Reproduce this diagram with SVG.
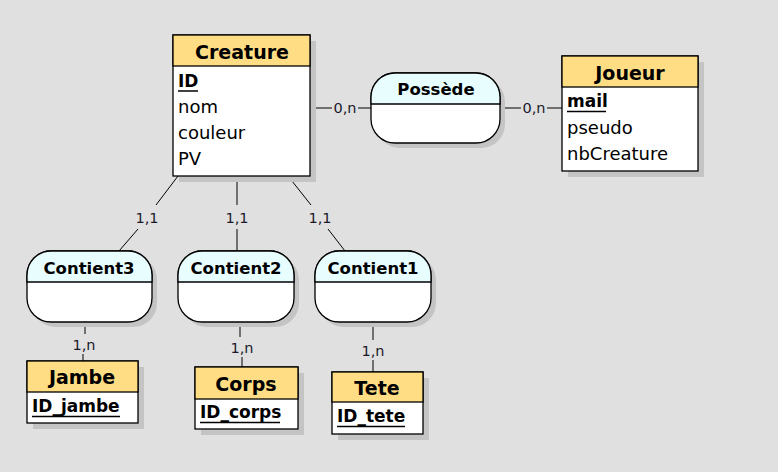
<svg xmlns="http://www.w3.org/2000/svg" width="778" height="472" viewBox="0 0 778 472">
<style>
.bg{fill:#e0e0e0}
.sh{fill:#c4c4c4}
.box{fill:#ffffff;stroke:#000;stroke-width:1.3}
.eh{fill:#ffdd84;stroke:#000;stroke-width:1.3}
.rh{fill:#e8fdfe;stroke:#000;stroke-width:1.3}
.title{font-family:"DejaVu Sans",sans-serif;font-weight:bold;font-size:19px;fill:#000;text-anchor:middle}
.rtitle{font-family:"DejaVu Sans",sans-serif;font-weight:bold;font-size:16.5px;fill:#000;text-anchor:middle}
.attr{font-family:"DejaVu Sans",sans-serif;font-size:18px;fill:#000}
.key{font-family:"DejaVu Sans",sans-serif;font-size:17px;font-weight:bold;fill:#000}
.ul{stroke:#000;stroke-width:1.5}
.ln{stroke:#000;stroke-width:1;fill:none}
.card{font-family:"DejaVu Sans",sans-serif;font-size:14.5px;fill:#1a1a2a;text-anchor:middle}
</style>
<rect class="bg" x="0" y="0" width="778" height="472"/>

<g id="connectors">
<line class="ln" x1="310" y1="108" x2="332" y2="108"/>
<line class="ln" x1="358" y1="108" x2="371" y2="108"/>
<text class="card" x="345" y="113">0,n</text>
<line class="ln" x1="500" y1="108" x2="521" y2="108"/>
<line class="ln" x1="547" y1="108" x2="562" y2="108"/>
<text class="card" x="534" y="113">0,n</text>

<line class="ln" x1="178" y1="176" x2="156" y2="205"/>
<line class="ln" x1="138" y1="229" x2="119" y2="251"/>
<text class="card" x="147" y="223">1,1</text>
<line class="ln" x1="237" y1="176" x2="237" y2="205"/>
<line class="ln" x1="237" y1="229" x2="237" y2="251"/>
<text class="card" x="237" y="223">1,1</text>
<line class="ln" x1="288" y1="176" x2="311" y2="205"/>
<line class="ln" x1="328" y1="229" x2="345" y2="251"/>
<text class="card" x="320" y="223">1,1</text>

<line class="ln" x1="85" y1="322" x2="85" y2="334"/>
<line class="ln" x1="83" y1="354" x2="83" y2="361"/>
<text class="card" x="84" y="350">1,n</text>
<line class="ln" x1="240" y1="322" x2="240" y2="337"/>
<line class="ln" x1="242" y1="357" x2="242" y2="367"/>
<text class="card" x="242" y="353">1,n</text>
<line class="ln" x1="373" y1="322" x2="373" y2="340"/>
<line class="ln" x1="373" y1="360" x2="373" y2="372"/>
<text class="card" x="373" y="356">1,n</text>
</g>

<g id="creature">
<rect class="sh" x="179" y="41" width="137" height="141"/>
<rect class="box" x="173" y="35" width="137" height="141"/>
<rect class="eh" x="173" y="35" width="137" height="31"/>
<text class="title" x="242" y="59">Creature</text>
<text class="key" x="178" y="87">ID</text>
<line class="ul" x1="178" y1="91" x2="198" y2="91"/>
<text class="attr" x="178" y="113">nom</text>
<text class="attr" x="178" y="139">couleur</text>
<text class="attr" x="178" y="165">PV</text>
</g>

<g id="joueur">
<rect class="sh" x="568" y="62" width="136" height="115"/>
<rect class="box" x="562" y="56" width="136" height="115"/>
<rect class="eh" x="562" y="56" width="136" height="31"/>
<text class="title" x="630" y="80">Joueur</text>
<text class="key" x="567" y="107">mail</text>
<line class="ul" x1="567" y1="111.5" x2="606" y2="111.5"/>
<text class="attr" x="567" y="134">pseudo</text>
<text class="attr" x="567" y="160">nbCreature</text>
</g>

<g id="possede">
<rect class="sh" x="376" y="78" width="129" height="70" rx="24" ry="24"/>
<rect class="box" x="371" y="73" width="129" height="70" rx="24" ry="24"/>
<path class="rh" d="M371,104 L371,97 A24,24 0 0 1 395,73 L476,73 A24,24 0 0 1 500,97 L500,104 Z"/>
<text class="rtitle" x="436" y="95">Possède</text>
</g>

<g id="contient3">
<rect class="sh" x="32" y="256" width="125" height="71" rx="24" ry="24"/>
<rect class="box" x="27" y="251" width="125" height="71" rx="24" ry="24"/>
<path class="rh" d="M27,282 L27,275 A24,24 0 0 1 51,251 L128,251 A24,24 0 0 1 152,275 L152,282 Z"/>
<text class="rtitle" x="89" y="274">Contient3</text>
</g>

<g id="contient2">
<rect class="sh" x="183" y="256" width="116" height="71" rx="24" ry="24"/>
<rect class="box" x="178" y="251" width="116" height="71" rx="24" ry="24"/>
<path class="rh" d="M178,282 L178,275 A24,24 0 0 1 202,251 L270,251 A24,24 0 0 1 294,275 L294,282 Z"/>
<text class="rtitle" x="236" y="274">Contient2</text>
</g>

<g id="contient1">
<rect class="sh" x="320" y="256" width="116" height="71" rx="24" ry="24"/>
<rect class="box" x="315" y="251" width="116" height="71" rx="24" ry="24"/>
<path class="rh" d="M315,282 L315,275 A24,24 0 0 1 339,251 L407,251 A24,24 0 0 1 431,275 L431,282 Z"/>
<text class="rtitle" x="373" y="274">Contient1</text>
</g>

<g id="jambe">
<rect class="sh" x="33" y="367" width="111" height="62"/>
<rect class="box" x="27" y="361" width="111" height="62"/>
<rect class="eh" x="27" y="361" width="111" height="31"/>
<text class="title" x="82" y="384">Jambe</text>
<text class="key" x="32" y="412">ID_jambe</text>
<line class="ul" x1="32" y1="416.5" x2="120" y2="416.5"/>
</g>

<g id="corps">
<rect class="sh" x="201" y="373" width="103" height="62"/>
<rect class="box" x="195" y="367" width="103" height="62"/>
<rect class="eh" x="195" y="367" width="103" height="32"/>
<text class="title" x="246" y="391">Corps</text>
<text class="key" x="200" y="418">ID_corps</text>
<line class="ul" x1="200" y1="422.5" x2="280" y2="422.5"/>
</g>

<g id="tete">
<rect class="sh" x="338" y="378" width="91" height="62"/>
<rect class="box" x="332" y="372" width="91" height="62"/>
<rect class="eh" x="332" y="372" width="91" height="30"/>
<text class="title" x="377" y="395">Tete</text>
<text class="key" x="337" y="422">ID_tete</text>
<line class="ul" x1="337" y1="426.5" x2="405" y2="426.5"/>
</g>
</svg>
